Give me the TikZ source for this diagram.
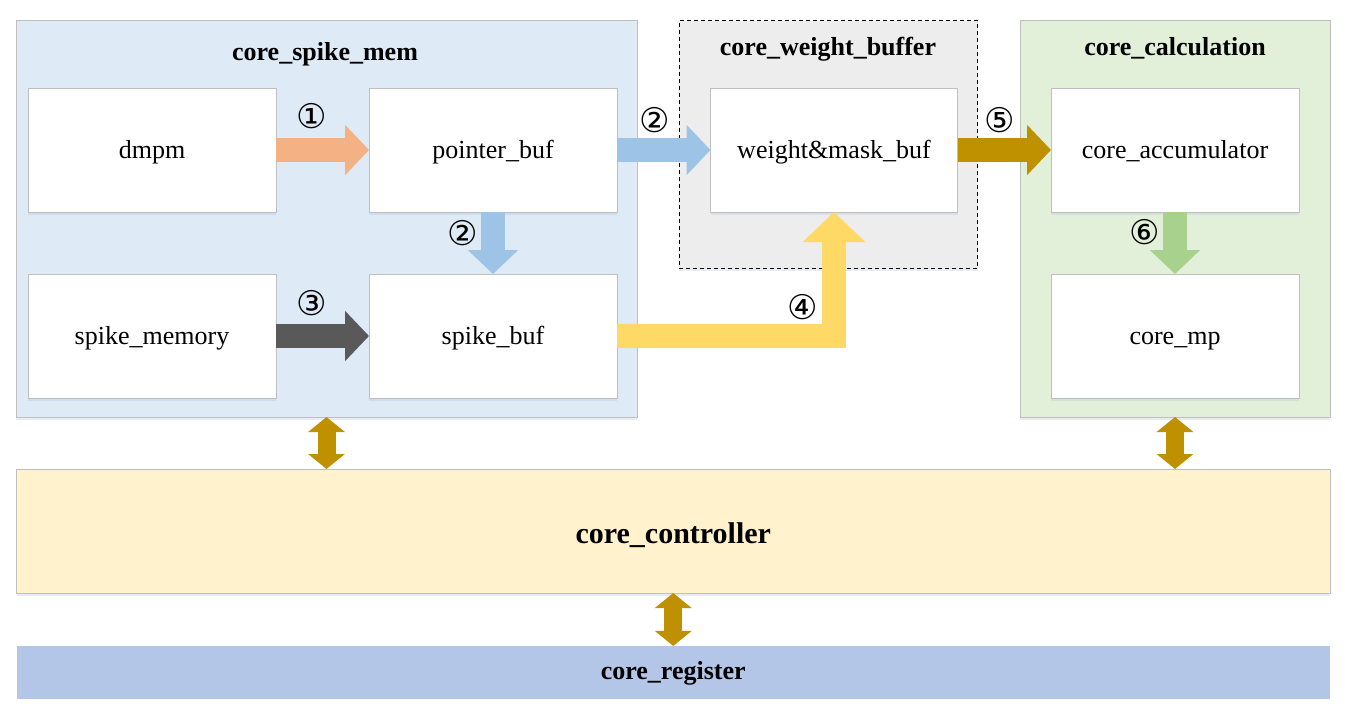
\documentclass[tikz,border=0pt]{standalone}
\usepackage{fontspec}
\setmainfont{Liberation Serif}
\newfontfamily\circfont{DejaVu Sans}
\usetikzlibrary{arrows.meta,calc,shadows}
\definecolor{bordergray}{HTML}{BFBFBF}
\definecolor{memblue}{HTML}{DEEAF6}
\definecolor{wbgray}{HTML}{EDEDED}
\definecolor{calcgreen}{HTML}{E2F0D9}
\definecolor{ctrlyellow}{HTML}{FFF2CC}
\definecolor{regblue}{HTML}{B4C6E7}
\definecolor{arrOrange}{HTML}{F4B183}
\definecolor{arrBlue}{HTML}{9DC3E6}
\definecolor{arrDark}{HTML}{595959}
\definecolor{arrYellow}{HTML}{FFD966}
\definecolor{arrGold}{HTML}{BF9000}
\definecolor{arrGreen}{HTML}{A9D18E}
\definecolor{shadowblue}{HTML}{9DB9DE}
\tikzset{
  softshadow/.style={drop shadow={shadow xshift=0pt, shadow yshift=-3pt, opacity=.25, fill=shadowblue}},
  container/.style={draw=bordergray, line width=1pt, inner sep=0pt, outer sep=0pt, softshadow},
  unitbox/.style={draw=bordergray, line width=1pt, fill=white, inner sep=0pt, outer sep=0pt,
    minimum width=248pt, minimum height=124pt, font=\fontsize{26}{30}\selectfont,
    text height=20pt, text depth=4pt, softshadow},
  titletext/.style={font=\fontsize{26}{30}\selectfont\bfseries, anchor=base, inner sep=0pt},
  numlabel/.style={font=\circfont\fontsize{34}{38}\selectfont, inner sep=0pt},
  blockarrow/.style={line width=24pt, -{Triangle[length=24pt,width=49pt]}},
  dblarrow/.style={line width=18pt, arrGold, {Triangle[length=15pt,width=36pt]}-{Triangle[length=15pt,width=36pt]}}
}
\begin{document}
\begin{tikzpicture}[x=1pt,y=-1pt]
\useasboundingbox (0,0) rectangle (1345,712);
% containers
\node[container, fill=memblue, minimum width=621pt, minimum height=397pt] (spikemem) at (326.5,218.5) {};
\node[draw=black, dashed, dash pattern=on 4pt off 3pt, line width=0.8pt, fill=wbgray, inner sep=0pt, outer sep=0pt,
      minimum width=298.5pt, minimum height=247.5pt, softshadow] (wbuf) at (828.25,144.25) {};
\node[container, fill=calcgreen, minimum width=310pt, minimum height=396.5pt] (calc) at (1175,218.75) {};
\node[container, fill=ctrlyellow, minimum width=1313.5pt, minimum height=124pt,
      font=\fontsize{30}{34}\selectfont\bfseries, text height=28pt, text depth=4pt] (ctrl) at (673.25,531) {core\_controller};
\node[fill=regblue, inner sep=0pt, outer sep=0pt, minimum width=1313.5pt, minimum height=52.7pt,
      font=\fontsize{26}{30}\selectfont\bfseries, text height=18pt, text depth=4pt] (reg) at (673.25,672.3) {core\_register};
% titles
\node[titletext] (t1) at (325,60) {core\_spike\_mem};
\node[titletext] (t2) at (828,55) {core\_weight\_buffer};
\node[titletext] (t3) at (1175,55) {core\_calculation};
% units
\node[unitbox] (dmpm) at (152,150) {dmpm};
\node[unitbox] (pointer) at (493,150) {pointer\_buf};
\node[unitbox] (spikememory) at (152,336) {spike\_memory};
\node[unitbox] (spikebuf) at (493,336) {spike\_buf};
\node[unitbox, minimum width=247pt] (wm) at (834,150) {weight\&mask\_buf};
\node[unitbox] (accum) at (1175,150) {core\_accumulator};
\node[unitbox] (coremp) at (1175,336) {core\_mp};
% block arrows
\draw[blockarrow, arrOrange] (dmpm.east) -- (pointer.west);
\draw[blockarrow, arrBlue] (pointer.east) -- (wm.west);
\draw[blockarrow, arrBlue] (pointer.south) -- (spikebuf.north);
\draw[blockarrow, arrDark] (spikememory.east) -- (spikebuf.west);
\draw[line width=24pt, line join=miter, arrYellow, -{Triangle[length=30pt,width=61pt]}]
  (spikebuf.east) -- (spikebuf.east -| wm.south) -- (wm.south);
\draw[blockarrow, arrGold] (wm.east) -- (accum.west);
\draw[blockarrow, arrGreen] (accum.south) -- (coremp.north);
% double arrows
\draw[dblarrow] (spikemem.south) -- (spikemem.south |- ctrl.north);
\draw[dblarrow] (calc.south) -- (calc.south |- ctrl.north);
\draw[dblarrow] (ctrl.south) -- (reg.north);
% step numbers
\node[numlabel] (n1) at (312,116) {①};
\node[numlabel] (n2a) at (655,120) {②};
\node[numlabel] (n2b) at (463,233) {②};
\node[numlabel] (n3) at (312,303) {③};
\node[numlabel] (n4) at (803,307) {④};
\node[numlabel] (n5) at (1000,120) {⑤};
\node[numlabel] (n6) at (1145,232) {⑥};
\end{tikzpicture}
\end{document}
